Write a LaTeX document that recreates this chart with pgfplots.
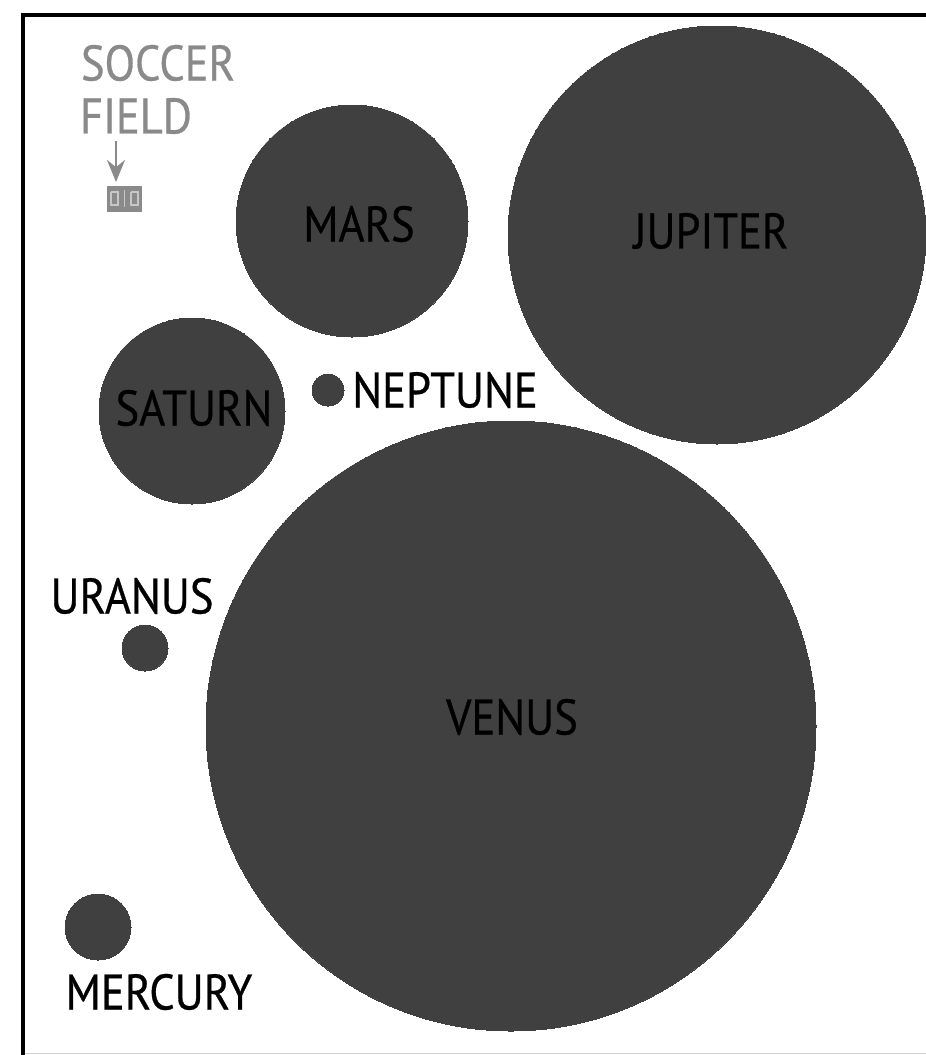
\documentclass[border=0pt]{standalone}
\usepackage{pgfplots}
\pgfplotsset{compat=1.18}
\usetikzlibrary{arrows.meta}
\usepackage{fontspec}
\setmainfont[FakeStretch=0.89,FakeBold=0.6]{PT Sans}
\definecolor{blob}{HTML}{404040}
\definecolor{fieldgray}{HTML}{8A8A8A}
\pgfplotstableread{
x y r
717 235 209
352 221 116
192 411 93
328 390 16
511 726 305
145 648 23
98 927 33
}\planets
\pgfplotstableread{
x y name
359 224 MARS
711 231 JUPITER
194 408 SATURN
445 390 NEPTUNE
132 596 URANUS
512 717 VENUS
159 992 MERCURY
}\blacklabels
\pgfplotstableread{
x y name
158 63 SOCCER
136 116 FIELD
}\graylabels
\begin{document}
\begin{tikzpicture}[x=1pt,y=1pt]
\path[use as bounding box] (0,0) rectangle (926,1055);
\begin{axis}[
  at={(0pt,0pt)},anchor=south west,
  width=926pt,height=1055pt,scale only axis,
  xmin=0,xmax=926,ymin=0,ymax=1055,y dir=reverse,
  axis lines=none,clip=false,
]
% frame
\addplot[black,line width=3.6pt] coordinates {(926,15) (23,15) (23,1055)};
\addplot[black!18,line width=1pt] coordinates {(25,1053.5) (926,1053.5)};
% planets
\addplot[only marks,mark=*,color=blob,mark options={draw=blob,fill=blob,line width=0pt},
  visualization depends on={\thisrow{r}\as\rad},
  scatter,scatter/@pre marker code/.code={\pgfkeysalso{/tikz/mark size=\rad}},
  scatter/@post marker code/.code={},
] table[x=x,y=y] {\planets};
% soccer field
\addplot[fieldgray,fill=fieldgray,line width=1pt] coordinates {(107.5,186) (141.5,186) (141.5,211) (107.5,211)} --cycle;
\addplot[black!22,line width=1.5pt] coordinates {(124.5,190) (124.5,207)};
\addplot[black!22,line width=1.2pt] coordinates {(111,192) (118,192) (118,205) (111,205) (111,192)};
\addplot[black!22,line width=1.2pt] coordinates {(131,192) (138,192) (138,205) (131,205) (131,192)};
\addplot[fieldgray,line width=2.6pt,-{Stealth[length=22pt,width=18pt]}] coordinates {(116,141) (116,182)};
% labels
\addplot[only marks,mark=none,text=fieldgray,nodes near coords,point meta=explicit symbolic,
  every node near coord/.append style={anchor=center,inner sep=0pt,font=\fontsize{50}{50}\selectfont,text=fieldgray}]
  table[x=x,y=y,meta=name] {\graylabels};
\addplot[only marks,mark=none,nodes near coords,point meta=explicit symbolic,
  every node near coord/.append style={anchor=center,inner sep=0pt,font=\fontsize{50}{50}\selectfont,text=black}]
  table[x=x,y=y,meta=name] {\blacklabels};
\end{axis}
\end{tikzpicture}
\end{document}
